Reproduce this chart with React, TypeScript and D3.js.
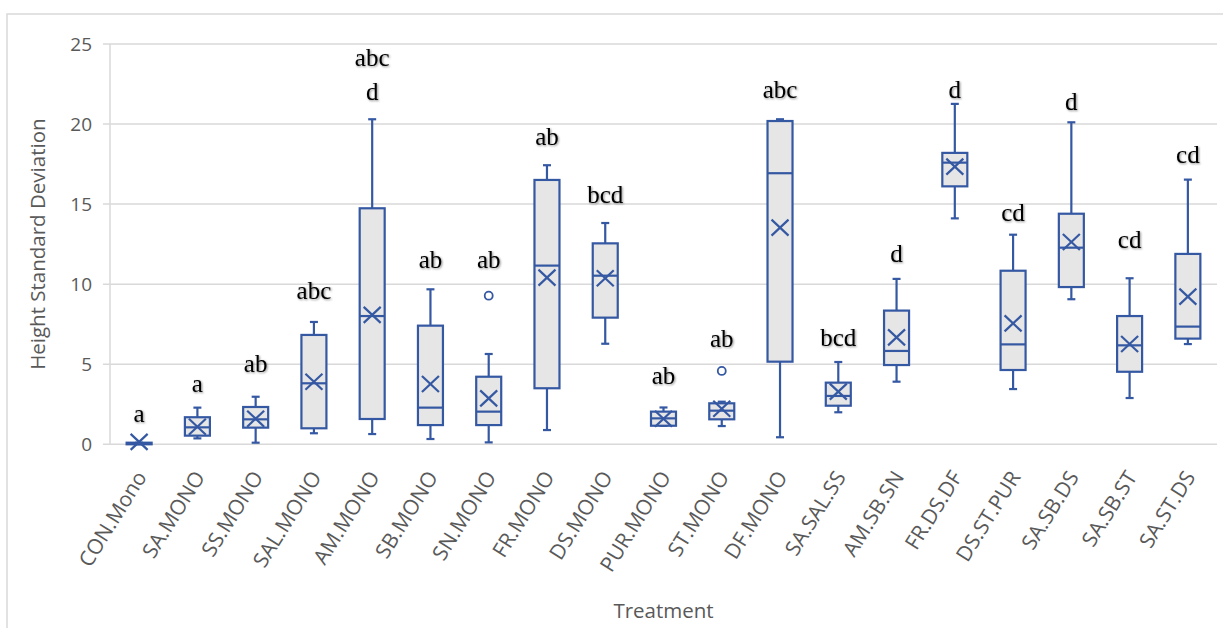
import * as d3 from "d3";

// Treatments and box-plot statistics
const categories = [
  "CON.Mono", "SA.MONO", "SS.MONO", "SAL.MONO", "AM.MONO", "SB.MONO", "SN.MONO",
  "FR.MONO", "DS.MONO", "PUR.MONO", "ST.MONO", "DF.MONO", "SA.SAL.SS", "AM.SB.SN",
  "FR.DS.DF", "DS.ST.PUR", "SA.SB.DS", "SA.SB.ST", "SA.ST.DS",
];
const whiskerLow = [0, 0.37, 0.1, 0.69, 0.64, 0.33, 0.12, 0.89, 6.28, 1.16, 1.14, 0.44, 2.0, 3.91, 14.11, 3.45, 9.06, 2.89, 6.26];
const q1 = [0, 0.54, 1.04, 1.0, 1.58, 1.2, 1.2, 3.5, 7.91, 1.16, 1.56, 5.16, 2.41, 4.95, 16.11, 4.64, 9.82, 4.53, 6.6];
const median = [0.05, 1.06, 1.56, 3.81, 8.01, 2.29, 2.04, 11.16, 10.53, 1.62, 2.1, 16.93, 3.02, 5.83, 17.59, 6.24, 12.28, 6.18, 7.35];
const q3 = [0.1, 1.69, 2.33, 6.83, 14.74, 7.41, 4.22, 16.51, 12.55, 2.04, 2.56, 20.19, 3.85, 8.35, 18.2, 10.84, 14.4, 8.01, 11.89];
const whiskerHigh = [0.1, 2.29, 2.97, 7.64, 20.3, 9.68, 5.64, 17.43, 13.82, 2.3, 2.66, 20.3, 5.14, 10.33, 21.26, 13.09, 20.11, 10.37, 16.53];
const mean = [0.15, 1.1, 1.6, 3.91, 8.08, 3.77, 2.87, 10.41, 10.37, 1.6, 2.22, 13.53, 3.29, 6.68, 17.34, 7.55, 12.63, 6.26, 9.22];
const outliers = [[], [], [], [], [], [], [9.28], [], [], [], [4.58], [], [], [], [], [], [], [], []];
const letters = ["a", "a", "ab", "abc", "abc\nd", "ab", "ab", "ab", "bcd", "ab", "ab", "abc", "bcd", "d", "d", "cd", "d", "cd", "cd"];
const letterBase = [1.37, 3.29, 4.53, 9.06, 21.5, 10.99, 10.99, 18.69, 15.09, 3.75, 6.1, 21.65, 6.14, 11.41, 21.61, 13.95, 20.88, 12.28, 17.55];
const yTicks = [0, 5, 10, 15, 20, 25];

const W = 1223;
const H = 628;
const left = 110;
const right = 1217;
const top = 44;
const bottom = 444.3;

const blue = "#3558a3";
const grid = "#d9d9d9";
const tickColor = "#595959";

export default function App() {
  const x = d3.scaleBand<string>().domain(categories).range([left, right]);
  const y = d3.scaleLinear().domain([0, 25]).range([bottom, top]);
  const boxW = 25;
  const capW = 8;

  return (
    <svg
      width={W}
      height={H}
      style={{ position: "absolute", left: 0, top: 0, background: "#fff" }}
    >
      <defs>
        <filter id="shadow" x="-20%" y="-20%" width="140%" height="140%">
          <feDropShadow dx="1" dy="1" stdDeviation="0.8" floodColor="#000" floodOpacity="0.45" />
        </filter>
      </defs>
      {/* chart area border */}
      <rect x={7} y={14} width={W} height={H} fill="none" stroke={grid} strokeWidth={1.5} />

      {/* gridlines and y ticks */}
      {yTicks.map((t) => (
        <g key={t}>
          <line x1={left - 7} x2={right} y1={y(t)} y2={y(t)} stroke={grid} strokeWidth={1.5} />
          <text
            x={92}
            y={y(t)}
            dy="0.35em"
            textAnchor="end"
            fontFamily="Open Sans"
            fontSize={19}
            fill={tickColor}
          >
            {t}
          </text>
        </g>
      ))}
      <line x1={left} x2={left} y1={top} y2={bottom} stroke={grid} strokeWidth={1.5} />

      {/* boxes */}
      {categories.map((c, i) => {
        const cx = x(c)! + x.bandwidth() / 2;
        const m = y(mean[i]);
        return (
          <g key={c} stroke={blue} strokeWidth={2.2} fill="none">
            <line x1={cx} x2={cx} y1={y(whiskerHigh[i])} y2={y(q3[i])} />
            <line x1={cx} x2={cx} y1={y(q1[i])} y2={y(whiskerLow[i])} />
            <line x1={cx - capW / 2} x2={cx + capW / 2} y1={y(whiskerHigh[i])} y2={y(whiskerHigh[i])} />
            <line x1={cx - capW / 2} x2={cx + capW / 2} y1={y(whiskerLow[i])} y2={y(whiskerLow[i])} />
            <rect
              x={cx - boxW / 2}
              y={y(q3[i])}
              width={boxW}
              height={Math.max(0.5, y(q1[i]) - y(q3[i]))}
              fill="#e6e6e6"
            />
            <line x1={cx - boxW / 2} x2={cx + boxW / 2} y1={y(median[i])} y2={y(median[i])} />
            <line x1={cx - 8.5} x2={cx + 8.5} y1={m - 8} y2={m + 8} />
            <line x1={cx - 8.5} x2={cx + 8.5} y1={m + 8} y2={m - 8} />
            {outliers[i].map((o, j) => (
              <circle key={j} cx={cx} cy={y(o)} r={4} fill="#fff" strokeWidth={1.8} />
            ))}
          </g>
        );
      })}

      {/* significance letters */}
      {categories.map((c, i) => {
        const cx = x(c)! + x.bandwidth() / 2;
        const lines = letters[i].split("\n");
        return (
          <text
            key={c}
            textAnchor="middle"
            fontFamily="Liberation Serif"
            fontSize={25}
            fill="#000"
            filter="url(#shadow)"
          >
            {lines.map((l, j) => (
              <tspan key={j} x={cx} y={y(letterBase[i]) - (lines.length - 1 - j) * 34}>
                {l}
              </tspan>
            ))}
          </text>
        );
      })}

      {/* category labels */}
      {categories.map((c) => {
        const cx = x(c)! + x.bandwidth() / 2;
        return (
          <text
            key={c}
            transform={`translate(${cx + 2},473) rotate(-58)`}
            dy="0.35em"
            textAnchor="end"
            fontFamily="Open Sans"
            fontSize={21}
            fill={tickColor}
          >
            {c}
          </text>
        );
      })}

      {/* axis titles */}
      <text
        x={(left + right) / 2}
        y={618}
        textAnchor="middle"
        fontFamily="Open Sans"
        fontSize={20.5}
        fill={tickColor}
      >
        Treatment
      </text>
      <text
        transform={`translate(45,${(top + bottom) / 2}) rotate(-90)`}
        textAnchor="middle"
        fontFamily="Open Sans"
        fontSize={20.5}
        fill={tickColor}
      >
        Height Standard Deviation
      </text>
    </svg>
  );
}
